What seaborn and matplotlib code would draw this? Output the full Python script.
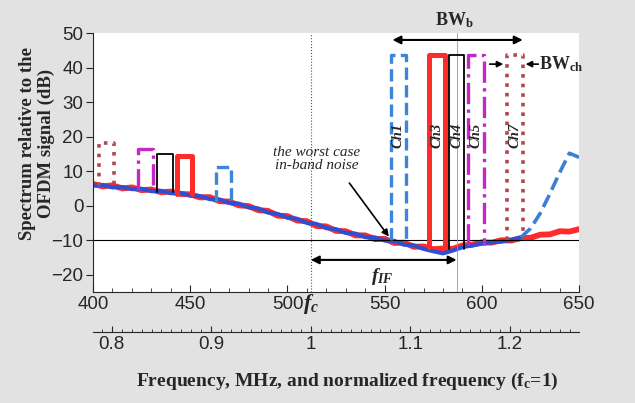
"""
Spectrum of the OFDM channels relative to the OFDM signal
"""

import matplotlib
matplotlib.use("Agg")
import matplotlib.pyplot as plt
import matplotlib.ticker as mticker
import seaborn as sns
import pandas as pd

# centre frequency of the IF band (MHz)
FC = 512

# noise-floor traces (MHz, dB)
freq_mhz = [400, 405, 410, 415, 420, 425, 430, 435, 440, 445, 450, 455, 460,
            465, 470, 475, 480, 485, 490, 495, 500, 505, 510, 515, 520, 525,
            530, 535, 540, 545, 550, 555, 560, 565, 570, 575, 580, 585, 590,
            595, 600, 605, 610, 615, 620, 625, 630, 635, 640, 645, 650]
red_db = [6.3, 5.6, 5.9, 5.0, 5.3, 4.5, 4.7, 3.9, 4.1, 3.4, 3.3, 2.4, 2.5,
          1.3, 1.2, 0.1, -0.1, -1.3, -1.5, -2.9, -3.0, -4.3, -4.5, -5.9, -6.0,
          -7.3, -7.4, -8.6, -8.6, -9.7, -9.6, -10.8, -10.7, -11.9, -11.8, -12.6,
          -12.4, -12.5, -11.5, -11.3, -10.6, -10.7, -10.0, -10.1, -9.4, -9.3,
          -8.4, -8.3, -7.4, -7.5, -6.8]
blue_db = [5.8, 6.0, 5.3, 5.4, 4.8, 4.9, 4.2, 4.3, 3.6, 3.7, 2.9, 2.8, 1.9,
           1.8, 0.8, 0.6, -0.5, -0.8, -2.0, -2.4, -3.5, -3.8, -5.0, -5.3, -6.5,
           -6.8, -7.9, -8.1, -9.1, -9.2, -10.1, -10.2, -11.3, -11.5, -12.5,
           -13.2, -13.8, -13.0, -12.0, -11.5, -11.0, -10.6, -10.4, -9.9, -9.2,
           -6.6, -2.2, 3.5, 9.6, 15.2, 14.0]
blue_rise_from = 620  # blue trace turns dashed from here

# channels (in band) and their images (below fc)
ch_names = ["Ch1", "Ch3", "Ch4", "Ch5", "Ch7"]
ch_center = [557, 577, 587, 597, 617]
ch_top = [43.5, 43.5, 43.5, 43.5, 43.5]
ch_floor = [-10.0, -12.0, -12.5, -11.5, -10.0]
img_center = [467, 447, 437, 427, 407]
img_top = [11.3, 14.4, 15.1, 16.5, 18.3]
img_floor = [1.0, 3.3, 4.0, 4.6, 5.6]
ch_width = 8

ch_colors = ["#3d85d8", "#ff2a2a", "black", "#c428c4", "#b0484f"]
ch_styles = ["--", "-", "-", "-.", ":"]
ch_lw = [2.4, 3.6, 1.3, 2.4, 2.6]

sns.set_style("ticks")
plt.rcParams["font.family"] = ["Liberation Sans", "DejaVu Sans"]
plt.rcParams["mathtext.fontset"] = "custom"
plt.rcParams["mathtext.it"] = "Liberation Serif:italic:bold"
plt.rcParams["mathtext.rm"] = "Liberation Serif"
plt.rcParams["mathtext.bf"] = "Liberation Serif:bold"

fig = plt.figure(figsize=(6.35, 4.03), dpi=100, facecolor="#e2e2e2")
ax = fig.add_axes([0.1465, 0.2754, 0.7655, 0.6426])
ax.set_facecolor("white")

df = pd.DataFrame({"f": freq_mhz, "red": red_db, "blue": blue_db})
solid = df[df["f"] <= blue_rise_from]
rise = df[df["f"] >= blue_rise_from]

sns.lineplot(data=df, x="f", y="red", ax=ax, color="#ff2a2a", lw=4.2,
             sort=False, estimator=None)
sns.lineplot(data=solid, x="f", y="blue", ax=ax, color="#2f4fd0", lw=3.0,
             sort=False, estimator=None)
sns.lineplot(data=rise, x="f", y="blue", ax=ax, color="#3d7fd6", lw=2.6,
             ls="--", sort=False, estimator=None)

# reference lines
ax.axhline(-10, color="black", lw=0.8)
ax.axvline(FC, color="#555555", lw=0.8, ls=":")
ax.axvline(ch_center[2], color="#999999", lw=0.6)

# channel pulses and their images
for i in range(len(ch_names)):
    for c, top, floor in [(ch_center[i], ch_top[i], ch_floor[i]),
                          (img_center[i], img_top[i], img_floor[i])]:
        xs = [c - ch_width / 2, c - ch_width / 2, c + ch_width / 2, c + ch_width / 2]
        ys = [floor, top, top, floor]
        ax.plot(xs, ys, color=ch_colors[i], ls=ch_styles[i], lw=ch_lw[i])
    ax.text(ch_center[i], 20.3, ch_names[i], rotation=90, ha="center",
            va="center", fontsize=10.5, style="italic", fontweight="bold",
            family="Liberation Serif")

# annotations
ax.text(515, 13.4, "the worst case\nin-band noise", ha="center", va="center",
        fontsize=11, style="italic", family="Liberation Serif", linespacing=1.0)
ax.annotate("", xy=(553, -9.6), xytext=(531, 7.2),
            arrowprops=dict(arrowstyle="-|>", color="black", lw=1.2,
                            mutation_scale=10))
ax.annotate("", xy=(587, -15.7), xytext=(FC, -15.7),
            arrowprops=dict(arrowstyle="<|-|>", color="black", lw=1.5,
                            mutation_scale=12, shrinkA=0, shrinkB=0))
ax.text(549, -20.5, "$f_{IF}$", ha="center", va="center", fontsize=14)
ax.annotate("", xy=(621, 48), xytext=(554, 48),
            arrowprops=dict(arrowstyle="<|-|>", color="black", lw=1.5,
                            mutation_scale=12, shrinkA=0, shrinkB=0),
            annotation_clip=False)
ax.text(586, 53.8, r"BW$_\mathbf{b}$", ha="center", va="center", fontsize=13,
        fontweight="bold", family="Liberation Serif", clip_on=False)
ax.annotate("", xy=(611, 41), xytext=(604, 41),
            arrowprops=dict(arrowstyle="-|>", color="black", lw=1.2,
                            mutation_scale=9, shrinkA=0, shrinkB=0))
ax.annotate("", xy=(622.5, 41), xytext=(629, 41),
            arrowprops=dict(arrowstyle="-|>", color="black", lw=1.2,
                            mutation_scale=9, shrinkA=0, shrinkB=0))
ax.text(629.5, 41, r"BW$_\mathbf{ch}$", ha="left", va="center", fontsize=13,
        fontweight="bold", family="Liberation Serif", clip_on=False)
ax.text(508, -0.045, "$f_c$", transform=ax.get_xaxis_transform(), ha="left",
        va="center", fontsize=16)

# main axes
ax.set_xlim(400, 650)
ax.set_ylim(-25, 50)
ax.set_xlabel("")
ax.set_ylabel("")
ax.xaxis.set_major_locator(mticker.MultipleLocator(50))
ax.xaxis.set_minor_locator(mticker.MultipleLocator(10))
ax.yaxis.set_major_locator(mticker.MultipleLocator(10))
ax.tick_params(axis="x", which="major", direction="in", length=5, pad=3,
               labelsize=13.5)
ax.tick_params(axis="x", which="minor", direction="in", length=3)
ax.tick_params(axis="y", direction="out", length=5, pad=2, labelsize=13.5)
sns.despine(ax=ax)

# normalized-frequency axis
sec = ax.secondary_xaxis(-0.154, functions=(lambda x: x / FC, lambda x: x * FC))
sec.xaxis.set_major_locator(mticker.MultipleLocator(0.1))
sec.xaxis.set_minor_locator(mticker.MultipleLocator(0.01))
sec.xaxis.set_major_formatter(mticker.FuncFormatter(lambda v, p: f"{v:g}"))
sec.tick_params(which="major", direction="in", length=4, pad=3, labelsize=13.5)
sec.tick_params(which="minor", direction="in", length=2.5)

fig.text(37 / 635, 1 - 143 / 403, "Spectrum relative to the\nOFDM signal (dB)",
         rotation=90, ha="center", va="center", fontsize=13.5,
         fontweight="bold", family="Liberation Serif", linespacing=1.1)
fig.text(347 / 635, 1 - 381 / 403,
         r"Frequency, MHz, and normalized frequency (f$_\mathbf{c}$=1)",
         ha="center", va="center", fontsize=14, fontweight="bold",
         family="Liberation Serif")

fig.savefig("out.png", dpi=100, facecolor=fig.get_facecolor())
